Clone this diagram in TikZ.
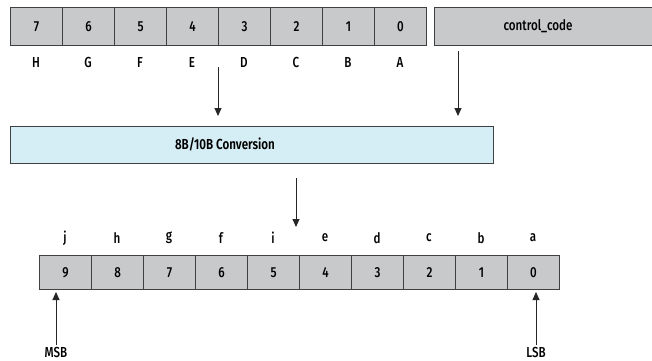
\documentclass[tikz,border=0pt]{standalone}
\usepackage{fontspec}
\setmainfont{Fira Sans}[FakeStretch=0.8, UprightFont=* Medium, BoldFont=* SemiBold]
\usetikzlibrary{arrows.meta}
\definecolor{cellgray}{HTML}{C8C9CB}
\definecolor{edgegray}{HTML}{3F4042}
\definecolor{convblue}{HTML}{D5EDF5}
\tikzset{
  cell/.style={draw=edgegray, line width=1.1pt, fill=cellgray, minimum width=52pt, minimum height=38pt, inner sep=0pt, font=\fontsize{14.5}{16}\selectfont, anchor=north west},
  bitlabel/.style={inner sep=0pt, font=\fontsize{14.5}{16}\selectfont},
  conv/.style={draw=edgegray, line width=1.1pt, fill=convblue, inner sep=0pt, anchor=north west},
  flow/.style={draw=black!85, line width=0.9pt, -{Triangle[width=7pt,length=8pt]}},
}
\begin{document}
\begin{tikzpicture}[x=1pt,y=-1pt]
\useasboundingbox (0,0) rectangle (652,360);
% top row
\foreach \i/\l in {0/H,1/G,2/F,3/E,4/D,5/C,6/B,7/A}{
  \pgfmathtruncatemacro{\v}{7-\i}
  \node[cell] (t\i) at ({10+52*\i},7) {\v};
  \node[bitlabel] (tl\i) at ({36+52*\i},62) {\l};
}
\node[cell, minimum width=226pt] (cc) at (434,7) {};
\node[bitlabel] (cct) at (538,26) {control\_code};
% conversion
\node[conv, minimum width=483pt, minimum height=37pt] (cv) at (10,126) {};
\node[bitlabel, font=\fontsize{14.5}{16}\selectfont\bfseries] (cvt) at (225,144) {8B/10B Conversion};
% arrows into conversion
\coordinate (a1s) at (218,67);
\coordinate (a1e) at (218,116);
\coordinate (a2s) at (458,51);
\coordinate (a2e) at (458,116);
\draw[flow] (a1s) -- (a1e);
\draw[flow] (a2s) -- (a2e);
% bottom row
\foreach \i/\l in {0/j,1/h,2/g,3/f,4/i,5/e,6/d,7/c,8/b,9/a}{
  \pgfmathtruncatemacro{\v}{9-\i}
  \node[cell, minimum height=34pt] (b\i) at ({39+52*\i},255) {\v};
  \node[bitlabel] (bl\i) at ({65+52*\i},238) {\l};
}
\coordinate (a3s) at (296,178);
\coordinate (a3e) at (296,227);
\draw[flow] (a3s) -- (a3e);
% MSB / LSB
\node[bitlabel] (msb) at (56,352) {MSB};
\node[bitlabel] (lsb) at (536,352) {LSB};
\coordinate (msbe) at (56,292);
\coordinate (lsbe) at (536,292);
\draw[flow] (msb.north) ++(0,-2) -- (msbe);
\draw[flow] (lsb.north) ++(0,-2) -- (lsbe);
\end{tikzpicture}
\end{document}
